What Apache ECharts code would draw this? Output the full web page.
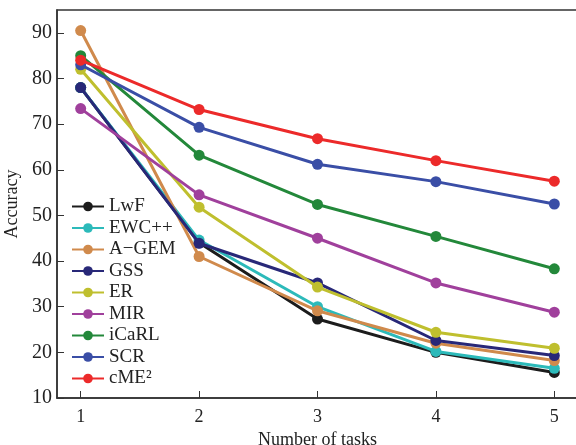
<!DOCTYPE html>
<html>
<head>
<meta charset="utf-8">
<script src="https://cdn.jsdelivr.net/npm/echarts@6/dist/echarts.min.js"></script>
<style>
  html, body { margin: 0; padding: 0; background: #fff; }
  #chart { width: 576px; height: 445px; }
</style>
</head>
<body>
<div id="chart"></div>
<script>
let tasks = [1, 2, 3, 4, 5];
let names = ['LwF', 'EWC++', 'A\u2212GEM', 'GSS', 'ER', 'MIR', 'iCaRL', 'SCR', 'cME\u00b2'];
let colors = ['#1c1c1c', '#2cbaba', '#d08a4c', '#282878', '#bfbf2e', '#a0409c', '#23883a', '#3a4ea6', '#ec2a2a'];

let lwf   = [78, 44, 27.3, 20, 15.6];
let ewc   = [78, 44.6, 30, 20.2, 16.5];
let agem  = [90.5, 41, 29.1, 22, 18.2];
let gss   = [78, 43.9, 35.2, 22.6, 19.3];
let er    = [82, 51.8, 34.3, 24.4, 20.9];
let mir   = [73.4, 54.5, 45, 35.2, 28.8];
let icarl = [85, 63.2, 52.4, 45.4, 38.3];
let scr   = [83, 69.3, 61.2, 57.4, 52.5];
let cme   = [84, 73.2, 66.8, 62, 57.5];

let series_values = [lwf, ewc, agem, gss, er, mir, icarl, scr, cme];
let y_ticks = [10, 20, 30, 40, 50, 60, 70, 80, 90];

let font = '"Liberation Serif", "DejaVu Serif", serif';

let series = names.map(function (name, i) {
    return {
        name: name,
        type: 'line',
        data: tasks.map((t, j) => [t, series_values[i][j]]),
        symbol: 'circle',
        symbolSize: 11,
        color: colors[i],
        lineStyle: { width: 3 },
        z: 2 + i
    };
});

let myChart = echarts.init(document.getElementById('chart'));
let option = {
    animation: false,
    grid: {
        left: 57, right: -2, top: 10, bottom: 47,
        outerBoundsMode: 'none',
        show: true, borderColor: '#333', borderWidth: 1.5
    },
    legend: {
        orient: 'vertical',
        left: 66,
        top: 192,
        itemWidth: 32,
        itemHeight: 12,
        itemGap: 2.5,
        textStyle: { fontFamily: font, fontSize: 19, color: '#222' },
        data: names
    },
    xAxis: {
        type: 'value',
        min: 0.8,
        max: 5.2,
        name: 'Number of tasks',
        nameLocation: 'middle',
        nameGap: 26,
        nameTextStyle: { fontFamily: font, fontSize: 18, color: '#222' },
        axisLine: { lineStyle: { color: '#333', width: 1.5 } },
        axisTick: { inside: true, length: 7, customValues: tasks, lineStyle: { color: '#333' } },
        axisLabel: { customValues: tasks, fontFamily: font, fontSize: 18, color: '#222', margin: 10 },
        splitLine: { show: false }
    },
    yAxis: {
        type: 'value',
        min: 10,
        max: 95,
        name: 'Accuracy',
        nameLocation: 'middle',
        nameGap: 32,
        nameTextStyle: { fontFamily: font, fontSize: 18, color: '#222' },
        axisLine: { show: true, lineStyle: { color: '#333', width: 1.5 } },
        axisTick: { show: true, inside: true, length: 7, customValues: y_ticks, lineStyle: { color: '#333' } },
        axisLabel: { customValues: y_ticks, fontFamily: font, fontSize: 20, color: '#222', margin: 5 },
        splitLine: { show: false }
    },
    series: series
};
myChart.setOption(option);
</script>
</body>
</html>
